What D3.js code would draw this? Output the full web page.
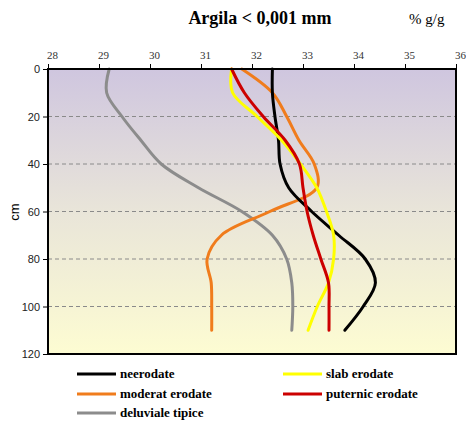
<!DOCTYPE html>
<html><head><meta charset="utf-8">
<script src="https://cdn.jsdelivr.net/npm/d3@7"></script>
<style>body{margin:0;background:#fff}svg{display:block}</style>
</head><body>
<svg id="c" width="466" height="425"></svg>
<script>
const depths = [0,10,20,30,40,50,60,70,80,90,100,110];
const neerodate = [32.4,32.4,32.45,32.52,32.55,32.72,33.17,33.7,34.22,34.42,34.18,33.82];
const slabErodate = [31.6,31.62,32.1,32.58,32.95,33.27,33.46,33.6,33.6,33.5,33.28,33.1];
const moderatErodate = [31.8,32.4,32.68,32.92,33.22,33.27,32.35,31.4,31.12,31.2,31.21,31.21];
const puternicErodate = [31.6,31.85,32.22,32.65,32.93,33.0,33.08,33.2,33.35,33.5,33.51,33.51];
const deluvialeTipice = [29.2,29.15,29.45,29.82,30.22,30.95,31.8,32.4,32.68,32.78,32.8,32.78];
const seriesNames = ["neerodate","slab erodate","moderat erodate","puternic erodate","deluviale tipice"];
const seriesColors = ["#000000","#FFFF00","#F07C1C","#CC0000","#8C8C8C"];
const xTicks = [28,29,30,31,32,33,34,35,36];
const yTicks = [0,20,40,60,80,100,120];

const seriesValues = [neerodate, slabErodate, moderatErodate, puternicErodate, deluvialeTipice];
const svg = d3.select("#c");
const L=48, R=456, T=69, B=354;
const x = d3.scaleLinear().domain([28,36]).range([L,R]);
const y = d3.scaleLinear().domain([0,120]).range([T,B]);

const defs = svg.append("defs");
const g = defs.append("linearGradient").attr("id","bg").attr("x1",0).attr("y1",0).attr("x2",0).attr("y2",1);
g.append("stop").attr("offset","0%").attr("stop-color","#CFC6DF");
g.append("stop").attr("offset","50%").attr("stop-color","#E9E5D9");
g.append("stop").attr("offset","100%").attr("stop-color","#FDFCD2");
svg.append("rect").attr("x",L).attr("y",T).attr("width",R-L).attr("height",B-T).attr("fill","url(#bg)");

// gridlines
svg.append("g").selectAll("line").data(yTicks.filter(d=>d>0&&d<120)).join("line")
  .attr("x1",L).attr("x2",R).attr("y1",d=>y(d)).attr("y2",d=>y(d))
  .attr("stroke","#8a8a8a").attr("stroke-width",1).attr("stroke-dasharray","4,3");

// lines
const line = d3.line().x(d=>x(d[1])).y(d=>y(d[0])).curve(d3.curveCatmullRom.alpha(0.5));
const order = [4,2,0,1,3];
order.forEach(i=>{
  svg.append("path").datum(depths.map((dp,j)=>[dp,seriesValues[i][j]]))
    .attr("d",line).attr("fill","none").attr("stroke",seriesColors[i]).attr("stroke-width",3)
    .attr("stroke-linecap","round");
});

// border
svg.append("rect").attr("x",L).attr("y",T).attr("width",R-L).attr("height",B-T)
  .attr("fill","none").attr("stroke","#000").attr("stroke-width",2);

// top axis
const xa = svg.append("g").attr("transform",`translate(0,${T})`)
  .call(d3.axisTop(x).tickValues(xTicks).tickSize(5).tickFormat(d3.format("d")));
xa.select(".domain").remove();
xa.selectAll("text").attr("font-family","Liberation Serif, Times New Roman, serif").attr("font-size",11)
  .attr("fill","#333").attr("dx",4).attr("dy",-2);

// left axis
const ya = svg.append("g").attr("transform",`translate(${L},0)`)
  .call(d3.axisLeft(y).tickValues(yTicks).tickSize(5).tickFormat(d3.format("d")));
ya.select(".domain").remove();
ya.selectAll("text").attr("font-family","Liberation Sans, Arial, sans-serif").attr("font-size",11).attr("fill","#222");

svg.append("text").attr("transform","translate(19,212) rotate(-90)").attr("text-anchor","middle")
  .attr("font-family","Liberation Sans, Arial, sans-serif").attr("font-size",13).text("cm");

svg.append("text").attr("x",260).attr("y",24).attr("text-anchor","middle")
  .attr("font-family","Liberation Serif, Times New Roman, serif").attr("font-size",18).attr("font-weight","bold")
  .text("Argila < 0,001 mm");
svg.append("text").attr("x",409).attr("y",24)
  .attr("font-family","Liberation Serif, Times New Roman, serif").attr("font-size",15).text("% g/g");

// legend
const legPos = [[77,374],[283,374],[77,394],[283,394],[77,413]];
seriesNames.forEach((name,i)=>{
  const [lx,ly] = legPos[i];
  svg.append("line").attr("x1",lx).attr("x2",lx+39).attr("y1",ly).attr("y2",ly)
    .attr("stroke",seriesColors[i]).attr("stroke-width",3);
  svg.append("text").attr("x",lx+43).attr("y",ly+4)
    .attr("font-family","Liberation Serif, Times New Roman, serif").attr("font-size",13).attr("font-weight","bold")
    .text(name);
});
</script>
</body></html>
